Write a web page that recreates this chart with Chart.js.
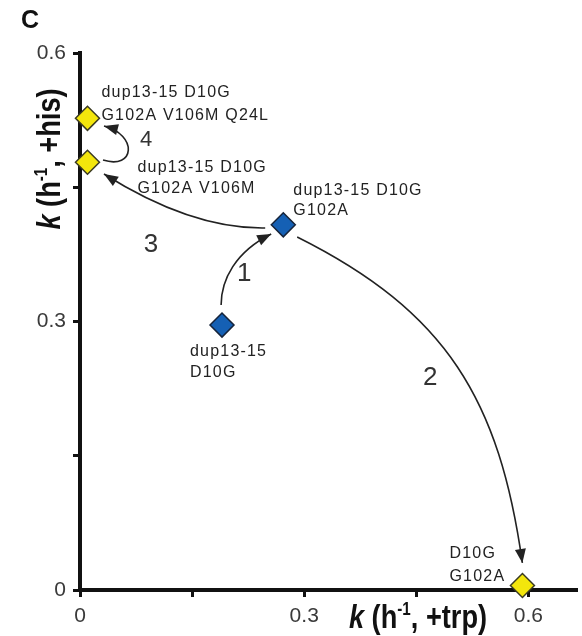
<!DOCTYPE html>
<html><head><meta charset="utf-8">
<script src="https://cdn.jsdelivr.net/npm/chart.js@4.4.1/dist/chart.umd.min.js"></script>
<style>html,body{margin:0;padding:0;background:#fff}canvas{display:block}</style>
</head><body>
<canvas id="c" width="582" height="636"></canvas>
<script>
// ---- data ----
const xTicks = [0, 0.15, 0.3, 0.45, 0.6];
const yTicks = [0, 0.15, 0.3, 0.45, 0.6];
const labeledTicks = [0, 0.3, 0.6];
const blueX = [0.19, 0.272];
const blueY = [0.296, 0.408];
const blueNames = [["dup13-15", "D10G"], ["dup13-15 D10G", "G102A"]];
const yellowX = [0.592, 0.010, 0.010];
const yellowY = [0.005, 0.478, 0.527];
const yellowNames = [["D10G", "G102A"], ["dup13-15 D10G", "G102A V106M"], ["dup13-15 D10G", "G102A V106M Q24L"]];
const stepNumbers = ["1", "2", "3", "4"];
// evolutionary steps as cubic curves (data units): start, ctrl1, ctrl2, end
const stepPaths = [
  [[0.1888, 0.3184], [0.1888, 0.3464], [0.2076, 0.3777], [0.2558, 0.3978]],
  [[0.2906, 0.3944], [0.4915, 0.3106], [0.5611, 0.2123], [0.5919, 0.0302]],
  [[0.2478, 0.4045], [0.1674, 0.4034], [0.0937, 0.4324], [0.0321, 0.4648]],
  [[0.0308, 0.4804], [0.0737, 0.4693], [0.0777, 0.5084], [0.0321, 0.5184]]
];
const stepNumPos = [[0.2196, 0.3531], [0.4687, 0.2369], [0.0951, 0.3855], [0.0884, 0.5028]];

// ---- styling / placement (pixels) ----
const blueLabelStyle = [{dx: -32, dy: 31, lh: 21}, {dx: 10, dy: -30, lh: 20}];
const yellowLabelStyle = [{dx: -73, dy: -28, lh: 23}, {dx: 50, dy: 10, lh: 21}, {dx: 14, dy: -21, lh: 23}];

const annot = {
  id: 'annot',
  beforeDatasetsDraw(chart) {
    const ctx = chart.ctx, xs = chart.scales.x, ys = chart.scales.y;
    const P = p => [xs.getPixelForValue(p[0]), ys.getPixelForValue(p[1])];
    ctx.save();
    ctx.strokeStyle = '#222'; ctx.fillStyle = '#222'; ctx.lineWidth = 1.6;
    stepPaths.forEach(path => {
      const [a, b, c, d] = path.map(P);
      ctx.beginPath(); ctx.moveTo(a[0], a[1]);
      ctx.bezierCurveTo(b[0], b[1], c[0], c[1], d[0], d[1]);
      ctx.stroke();
      let ux = d[0] - c[0], uy = d[1] - c[1];
      const n = Math.hypot(ux, uy); ux /= n; uy /= n;
      const L = 14, W = 5.5;
      const bx = d[0] - ux * L, by = d[1] - uy * L;
      ctx.beginPath(); ctx.moveTo(d[0], d[1]);
      ctx.lineTo(bx - uy * W, by + ux * W);
      ctx.lineTo(bx + uy * W, by - ux * W);
      ctx.closePath(); ctx.fill();
    });
    ctx.restore();
  },
  afterDatasetsDraw(chart) {
    const ctx = chart.ctx, xs = chart.scales.x, ys = chart.scales.y;
    ctx.save();
    ctx.fillStyle = '#222';
    ctx.font = '16px "Liberation Sans", Arial, sans-serif';
    ctx.textBaseline = 'alphabetic'; ctx.textAlign = 'left';
    try { ctx.letterSpacing = '1.2px'; } catch (e) {}
    const drawNames = (meta, names, styles) => {
      meta.data.forEach((pt, i) => {
        const s = styles[i];
        names[i].forEach((line, j) => ctx.fillText(line, pt.x + s.dx, pt.y + s.dy + j * s.lh));
      });
    };
    drawNames(chart.getDatasetMeta(0), blueNames, blueLabelStyle);
    drawNames(chart.getDatasetMeta(1), yellowNames, yellowLabelStyle);
    try { ctx.letterSpacing = '0px'; } catch (e) {}
    ctx.fillStyle = '#333';
    ctx.textAlign = 'center'; ctx.textBaseline = 'middle';
    stepNumbers.forEach((t, i) => {
      ctx.font = (i === 3 ? '22px' : '26px') + ' "Liberation Sans", Arial, sans-serif';
      ctx.fillText(t, xs.getPixelForValue(stepNumPos[i][0]), ys.getPixelForValue(stepNumPos[i][1]));
    });
    ctx.restore();
  },
  afterDraw(chart) {
    const ctx = chart.ctx, ca = chart.chartArea;
    const fam = '"Liberation Sans", Arial, sans-serif';
    const parts = (rest) => [
      {t: 'k', f: 'italic bold 34px ' + fam, r: 0},
      {t: ' (h', f: 'bold 34px ' + fam, r: 0},
      {t: '-1', f: 'bold 19px ' + fam, r: -13},
      {t: ', +' + rest + ')', f: 'bold 34px ' + fam, r: 0}
    ];
    const drawTitle = (pp, sx) => {
      let w = 0;
      pp.forEach(p => { ctx.font = p.f; w += ctx.measureText(p.t).width; });
      ctx.save(); ctx.scale(sx, 1);
      let x = -w / 2;
      pp.forEach(p => { ctx.font = p.f; ctx.fillText(p.t, x, p.r); x += ctx.measureText(p.t).width; });
      ctx.restore();
    };
    ctx.save();
    ctx.fillStyle = '#111'; ctx.textAlign = 'left'; ctx.textBaseline = 'alphabetic';
    // x title
    ctx.save(); ctx.translate(ca.left + 338, ca.bottom + 38);
    drawTitle(parts('trp'), 0.8); ctx.restore();
    // y title
    ctx.save(); ctx.translate(ca.left - 20, ca.top + 106); ctx.rotate(-Math.PI / 2);
    drawTitle(parts('his'), 0.8); ctx.restore();
    // panel letter
    ctx.font = 'bold 25px ' + fam;
    ctx.fillText('C', 21, 28);
    ctx.restore();
  }
};

const fmt = v => labeledTicks.some(t => Math.abs(t - v) < 1e-9) ? (v === 0 ? '0' : v.toFixed(1)) : '';
const axisCommon = {
  grid: {display: true, drawOnChartArea: false, drawTicks: true, tickLength: 7, tickWidth: 3, tickColor: '#111'},
  border: {display: true, color: '#111', width: 4},
  ticks: {color: '#3a3a3a', font: {family: '"Liberation Sans", Arial, sans-serif', size: 21}, padding: 7, callback: fmt, autoSkip: false, maxRotation: 0}
};

new Chart(document.getElementById('c'), {
  type: 'scatter',
  data: {
    datasets: [
      {data: blueX.map((x, i) => ({x, y: blueY[i]})), backgroundColor: '#1560b4', borderColor: '#16243a', borderWidth: 1.5, pointStyle: 'rectRot', pointRadius: 12, pointHoverRadius: 12, clip: false},
      {data: yellowX.map((x, i) => ({x, y: yellowY[i]})), backgroundColor: '#f3e60c', borderColor: '#3a3a22', borderWidth: 1.5, pointStyle: 'rectRot', pointRadius: 12, pointHoverRadius: 12, clip: false}
    ]
  },
  options: {
    responsive: false, animation: false, devicePixelRatio: 1,
    layout: {autoPadding: false, padding: {top: 53, right: 5, left: 0, bottom: 0}},
    plugins: {legend: {display: false}, tooltip: {enabled: false}},
    scales: {
      x: Object.assign({}, axisCommon, {type: 'linear', min: 0, max: 0.665,
        afterBuildTicks: s => { s.ticks = xTicks.map(v => ({value: v})); },
        afterFit: s => { s.height = 46; }}),
      y: Object.assign({}, axisCommon, {type: 'linear', min: 0, max: 0.6,
        afterBuildTicks: s => { s.ticks = yTicks.map(v => ({value: v})); },
        afterFit: s => { s.width = 80; }})
    }
  },
  plugins: [annot]
});
</script>
</body></html>
